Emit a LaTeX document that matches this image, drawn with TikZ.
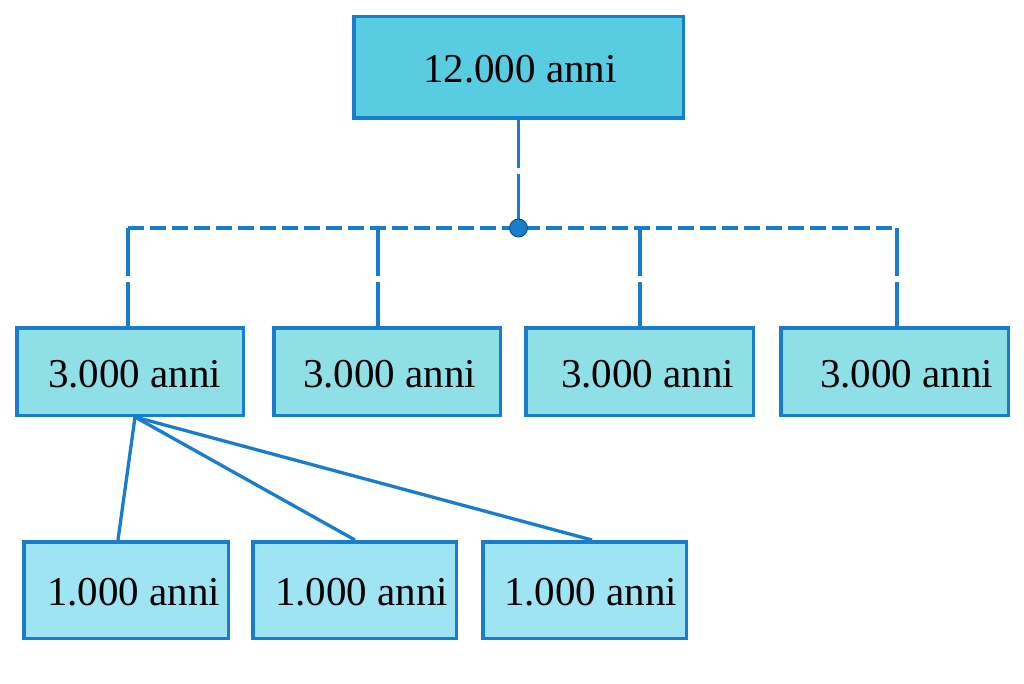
\documentclass[tikz,border=0pt]{standalone}
\usepackage{fontspec}
\setmainfont{Liberation Serif}
\usetikzlibrary{calc}
\definecolor{edge}{RGB}{25,125,205}
\definecolor{topfill}{RGB}{88,204,224}
\definecolor{midfill}{RGB}{142,223,230}
\definecolor{botfill}{RGB}{158,228,243}
\begin{document}
\begin{tikzpicture}[x=1pt,y=-1pt,
 box/.style={draw=edge,line width=3.5pt,inner sep=0pt},
 lbl/.style={anchor=base west,inner sep=0pt,font=\fontsize{41}{49}\selectfont},
 conn/.style={draw=edge,line width=3.3pt},
 vdash/.style={conn,dash pattern=on 48pt off 6pt},
 hdash/.style={conn,dash pattern=on 16pt off 6pt}]
\fill[white] (0,0) rectangle (1024,684);
\useasboundingbox (0,0) rectangle (1024,684);
% boxes
\node[box,fill=topfill,minimum width=329.5pt,minimum height=101.5pt] (top) at (518.5,67.5) {};
\node[box,fill=midfill,minimum width=226.5pt,minimum height=87.5pt] (m1) at (130,371.5) {};
\node[box,fill=midfill,minimum width=226.5pt,minimum height=87.5pt] (m2) at (387,371.5) {};
\node[box,fill=midfill,minimum width=227.5pt,minimum height=87.5pt] (m3) at (639.5,371.5) {};
\node[box,fill=midfill,minimum width=227.5pt,minimum height=87.5pt] (m4) at (894.5,371.5) {};
\node[box,fill=botfill,minimum width=204.5pt,minimum height=96.5pt] (b1) at (126,590) {};
\node[box,fill=botfill,minimum width=203.5pt,minimum height=96.5pt] (b2) at (354.5,590) {};
\node[box,fill=botfill,minimum width=203.5pt,minimum height=96.5pt] (b3) at (584.5,590) {};
% labels
\node[lbl] (t0) at (423,83) {12.000 anni};
\node[lbl] (t1) at (48,387) {3.000 anni};
\node[lbl] (t2) at (303,387) {3.000 anni};
\node[lbl] (t3) at (561,387) {3.000 anni};
\node[lbl] (t4) at (820,387) {3.000 anni};
\node[lbl] (u1) at (47,605) {1.000 anni};
\node[lbl] (u2) at (275,605) {1.000 anni};
\node[lbl] (u3) at (504,605) {1.000 anni};
% connectors
\coordinate (J) at (518.5,228);
\coordinate (c1) at (128,228);
\coordinate (c2) at (378,228);
\coordinate (c3) at (640,228);
\coordinate (c4) at (897,228);
\draw[vdash] (top.south) -- (J);
\draw[hdash] (c1) -- (c4);
\draw[vdash] (c1) -- (c1 |- m1.north);
\draw[vdash] (c2) -- (c2 |- m2.north);
\draw[vdash] (c3) -- (c3 |- m3.north);
\draw[vdash] (c4) -- (c4 |- m4.north);
\node[circle,fill=edge,draw=edge!55!black,line width=0.8pt,minimum size=18pt,inner sep=0pt] (dot) at (J) {};
\coordinate (s) at ($(m1.south)+(5,0)$);
\draw[conn] (s) -- ($(b1.north)+(-8,0)$);
\draw[conn] (s) -- ($(b2.north)+(0.5,0)$);
\draw[conn] (s) -- ($(b3.north)+(7.5,0)$);
\end{tikzpicture}
\end{document}
